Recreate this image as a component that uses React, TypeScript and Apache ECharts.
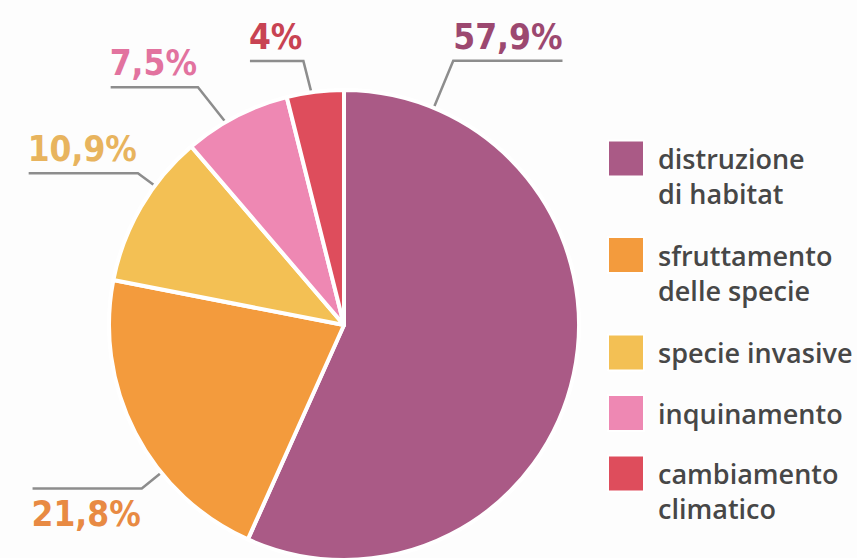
import React, { useEffect, useRef } from "react";
import * as echarts from "echarts";

// ---- data ----
const categories = [
  "distruzione di habitat",
  "sfruttamento delle specie",
  "specie invasive",
  "inquinamento",
  "cambiamento climatico",
];
const legendLabels = [
  "distruzione\ndi habitat",
  "sfruttamento\ndelle specie",
  "specie invasive",
  "inquinamento",
  "cambiamento\nclimatico",
];
const values = [57.9, 21.8, 10.9, 7.5, 4];

// ---- styles ----
const sliceColors = ["#aa5a86", "#f39b3d", "#f3c054", "#ee88b3", "#de4d5c"];
const labelColors = ["#9c4870", "#e88a43", "#e8b45e", "#e2739f", "#c84353"];

const CX = 344;
const CY = 325;
const R = 235;

// leader line layout per slice: position along the slice (fraction) and radial offsets
const leaders = [
  { at: 0.11, bendAt: 0.11, inner: 0, outer: 51 },
  { at: 0.35, bendAt: 0.35, inner: -17, outer: 25 },
  { at: 0.66, bendAt: 0.66, inner: -17, outer: 21 },
  { at: 0.42, bendAt: 0.34, inner: -22, outer: 44 },
  { at: 0.47, bendAt: 0.38, inner: -18, outer: 32 },
];
const legendIconCenters = [158.5, 255, 351.5, 412, 473.5];
const LINE_H = 35;

const fmt = (v: number) => String(v).replace(".", ",") + "%";

export default function App() {
  const ref = useRef<HTMLDivElement>(null);

  useEffect(() => {
    if (!ref.current) return;
    const chart = echarts.init(ref.current, undefined, { renderer: "svg" });

    const total = values.reduce((a, b) => a + b, 0);
    let cum = 0;
    const geo = values.map((v, i) => {
      const start = (cum / total) * 360;
      cum += v;
      const end = (cum / total) * 360;
      const span = end - start;
      const l = leaders[i];
      const a0 = ((start + l.at * span) * Math.PI) / 180;
      const a1 = ((start + l.bendAt * span) * Math.PI) / 180;
      const r0 = R + l.inner;
      const r1 = R + l.outer;
      return {
        px: CX + r0 * Math.sin(a0),
        py: CY - r0 * Math.cos(a0),
        bx: CX + r1 * Math.sin(a1),
        by: CY - r1 * Math.cos(a1),
      };
    });

    const option: any = {
      animation: false,
      backgroundColor: "#fdfdfd",
      legend: legendLabels.map((lab, i) => {
        const two = lab.includes("\n");
        return {
          data: [categories[i]],
          left: 607,
          top: legendIconCenters[i] - (two ? LINE_H * 1.5 : 18),
          orient: "vertical",
          padding: 0,
          itemWidth: 36,
          itemHeight: 36,
          icon: "rect",
          selectedMode: false,
          // a leading empty line keeps the first text line level with the square
          formatter: () => (two ? "\n" + lab : lab),
          textStyle: {
            fontFamily: "'Open Sans', sans-serif",
            fontSize: 27,
            fontWeight: 600,
            color: "#474747",
            lineHeight: LINE_H,
            padding: [0, 0, 0, 9],
          },
        };
      }),
      series: [
        {
          type: "pie",
          center: [CX, CY],
          radius: R,
          startAngle: 90,
          clockwise: true,
          avoidLabelOverlap: false,
          itemStyle: { borderColor: "#ffffff", borderWidth: 4 },
          data: categories.map((name, i) => ({
            name,
            value: values[i],
            itemStyle: { color: sliceColors[i] },
            label: { color: labelColors[i] },
          })),
          label: {
            show: true,
            position: "outside",
            formatter: (p: any) => fmt(p.value),
            fontFamily: "'DejaVu Sans Condensed', sans-serif",
            fontWeight: "bold",
            fontSize: 35,
          },
          labelLine: {
            show: true,
            length: 10,
            length2: 10,
            lineStyle: { color: "#8d8d8d", width: 2.5 },
          },
          labelLayout: (params: any) => {
            const g = geo[params.dataIndex];
            const w = params.labelRect.width;
            const right = g.bx > CX;
            const below = g.by > CY;
            const endX = right ? g.bx + w : g.bx - w;
            return {
              x: right ? g.bx : g.bx - 1,
              y: below ? g.by + 26 : g.by - 24,
              align: right ? "left" : "right",
              verticalAlign: "middle",
              labelLinePoints: [
                [g.px, g.py],
                [g.bx, g.by],
                [endX, g.by],
              ],
            };
          },
        },
      ],
    };

    chart.setOption(option);
    return () => chart.dispose();
  }, []);

  return (
    <div
      ref={ref}
      style={{ position: "fixed", left: 0, top: 0, width: 857, height: 558 }}
    />
  );
}
